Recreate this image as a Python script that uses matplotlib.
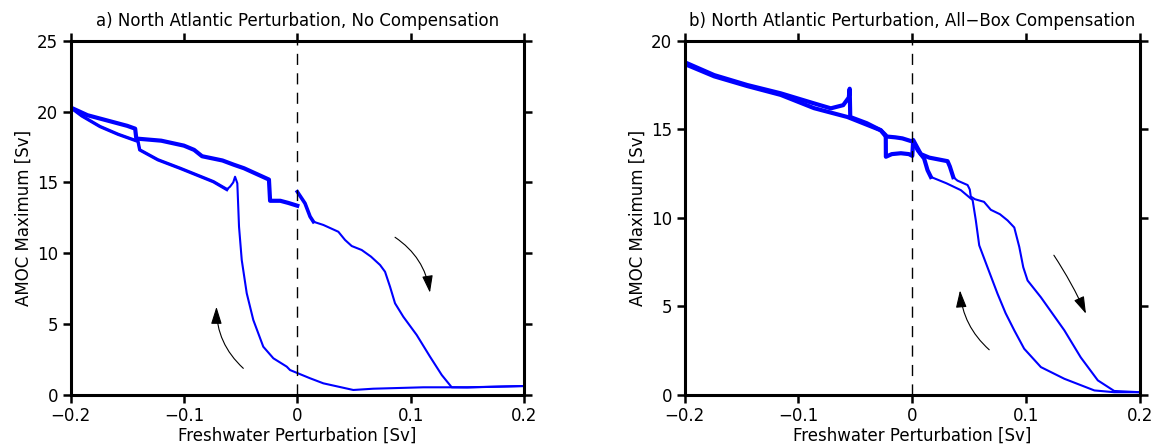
import matplotlib
matplotlib.use("Agg")
import matplotlib.pyplot as plt
import numpy as np

# ---- panel a: North Atlantic perturbation, no compensation ----
# forward run, -0.2 -> 0 (upper branch)
a_fwd_neg_x = [-0.2, -0.185, -0.164, -0.15, -0.143, -0.142, -0.12, -0.1, -0.091, -0.084,
               -0.066, -0.056, -0.047, -0.025, -0.024, -0.015, -0.008, 0.0]
a_fwd_neg_y = [20.3, 19.75, 19.3, 19.0, 18.8, 18.1, 17.95, 17.6, 17.3, 16.85,
               16.55, 16.25, 16.0, 15.2, 13.7, 13.7, 13.55, 13.35]
# forward run, 0 -> 0.2
a_fwd_pos_x = [0.0, 0.0068, 0.0113, 0.0142, 0.023, 0.0362, 0.0421, 0.048, 0.0568,
               0.065, 0.073, 0.0774, 0.0818, 0.0862, 0.0935, 0.1053, 0.1171,
               0.1274, 0.1362, 0.15, 0.175, 0.2]
a_fwd_pos_y = [14.34, 13.52, 12.58, 12.22, 11.99, 11.51, 10.93, 10.5, 10.22,
               9.75, 9.16, 8.68, 7.62, 6.45, 5.5, 4.21, 2.67,
               1.38, 0.51, 0.5, 0.55, 0.6]
# backward run, 0.2 -> -0.2
a_bwd_x = [0.2, 0.15, 0.1112, 0.067, 0.0494, 0.023, 0.0112, -0.0064, -0.0093, -0.0211,
           -0.03, -0.0388, -0.0446, -0.049, -0.0514, -0.0529, -0.0549, -0.0565,
           -0.0593, -0.0622, -0.074, -0.091, -0.1034, -0.123, -0.139, -0.1405,
           -0.158, -0.174, -0.19, -0.2]
a_bwd_y = [0.6, 0.51, 0.51, 0.41, 0.32, 0.79, 1.15, 1.73, 1.97, 2.56,
           3.38, 5.27, 7.16, 9.51, 11.87, 14.94, 15.4, 15.0,
           14.7, 14.5, 15.05, 15.6, 16.0, 16.6, 17.3, 17.9,
           18.4, 18.95, 19.7, 20.3]

# ---- panel b: North Atlantic perturbation, all-box compensation ----
b_fwd_x = [-0.2, -0.174, -0.145, -0.1156, -0.0863, -0.057, -0.0277, -0.0233, -0.0232,
           -0.018, -0.01, -0.003, 0.0, 0.0008, 0.0075, 0.015, 0.031, 0.033, 0.036,
           0.0397, 0.0486, 0.0505, 0.0514, 0.055, 0.063, 0.069, 0.077, 0.0837,
           0.0896, 0.094, 0.0975, 0.1013, 0.113, 0.1336, 0.148, 0.163, 0.1774, 0.2]
b_fwd_y = [18.7, 18.0, 17.45, 16.95, 16.2, 15.7, 14.95, 14.67, 13.45,
           13.6, 13.65, 13.6, 13.5, 14.4, 13.6, 13.4, 13.2, 12.9, 12.3,
           12.1, 11.85, 11.6, 11.2, 11.05, 10.9, 10.45, 10.2, 9.85,
           9.45, 8.35, 7.2, 6.45, 5.5, 3.63, 2.1, 0.8, 0.2, 0.13]
b_bwd_x = [0.2, 0.1774, 0.16, 0.1336, 0.113, 0.0983, 0.0896, 0.082, 0.0749, 0.066,
           0.0588, 0.0558, 0.053, 0.0427, 0.03, 0.0163, 0.0134, 0.0104, 0.005, 0.0007,
           -0.0087, -0.015, -0.0233, -0.0277, -0.04, -0.0545, -0.055, -0.0558,
           -0.0607, -0.0716, -0.0863, -0.1156, -0.145, -0.174, -0.2]
b_bwd_y = [0.13, 0.13, 0.23, 0.89, 1.55, 2.59, 3.63, 4.6, 5.7, 7.21,
           8.44, 9.86, 11.0, 11.56, 11.95, 12.31, 12.69, 13.35, 13.8, 14.3,
           14.49, 14.55, 14.6, 14.95, 15.35, 15.7, 17.3, 16.8,
           16.37, 16.19, 16.47, 17.04, 17.51, 18.07, 18.8]

titles = ["a) North Atlantic Perturbation, No Compensation",
          "b) North Atlantic Perturbation, All\u2212Box Compensation"]
xticks = [-0.2, -0.1, 0, 0.1, 0.2]
xticklabels = ["\u22120.2", "\u22120.1", "0", "0.1", "0.2"]
yticks_a = [0, 5, 10, 15, 20, 25]
yticks_b = [0, 5, 10, 15, 20]

plt.rcParams['font.family'] = 'DejaVu Sans'
BLUE = (0, 0, 1)

fig = plt.figure(figsize=(11.62, 4.48), dpi=100)
ax_a = fig.add_axes([0.0607, 0.1194, 0.3903, 0.7891])
ax_b = fig.add_axes([0.5892, 0.1194, 0.3918, 0.7891])


def draw_curve(ax, x, y, noisy=None, lw=1.5, lw_noisy=2.8):
    x = np.asarray(x)
    y = np.asarray(y)
    ax.plot(x, y, color=BLUE, lw=lw, solid_joinstyle='round')
    if noisy is not None:
        m = (x >= noisy[0]) & (x <= noisy[1])
        ax.plot(x[m], y[m], color=BLUE, lw=lw_noisy, solid_joinstyle='round')


def arrow(ax, tail, head, rad):
    ax.annotate("", xy=head, xytext=tail,
                arrowprops=dict(arrowstyle='-|>,head_length=0.7,head_width=0.22',
                                color='k', lw=0.8, mutation_scale=15,
                                connectionstyle="arc3,rad=%s" % rad,
                                shrinkA=0, shrinkB=0))


def style(ax, yticks, title):
    ax.set_xlim(-0.2, 0.2)
    ax.set_ylim(yticks[0], yticks[-1])
    ax.set_xticks(xticks)
    ax.set_xticklabels(xticklabels)
    ax.set_yticks(yticks)
    ax.tick_params(which='both', direction='out', length=6, width=1.8,
                   labelsize=12, top=True, right=True, pad=3)
    ax.tick_params(axis='x', pad=3)
    for s in ax.spines.values():
        s.set_linewidth(2.2)
    ax.axvline(0, color='k', lw=1.0, dashes=(8, 6))
    ax.set_title(title, fontsize=12, pad=11)
    ax.set_xlabel("Freshwater Perturbation [Sv]", fontsize=12, labelpad=1)
    ax.set_ylabel("AMOC Maximum [Sv]", fontsize=12, labelpad=3)


draw_curve(ax_a, a_fwd_neg_x, a_fwd_neg_y, noisy=(-0.2, 0.0), lw_noisy=3.0)
draw_curve(ax_a, a_fwd_pos_x, a_fwd_pos_y, noisy=(0.0, 0.015), lw_noisy=2.6)
draw_curve(ax_a, a_bwd_x, a_bwd_y, noisy=(-0.2, -0.06), lw_noisy=2.4)
arrow(ax_a, (-0.0476, 1.85), (-0.0713, 6.2), -0.22)
arrow(ax_a, (0.0862, 11.12), (0.117, 7.2), -0.22)
style(ax_a, yticks_a, titles[0])

draw_curve(ax_b, b_fwd_x, b_fwd_y, noisy=(-0.2, 0.036), lw_noisy=3.0)
draw_curve(ax_b, b_bwd_x, b_bwd_y, noisy=(-0.2, 0.02), lw_noisy=3.0)
arrow(ax_b, (0.0676, 2.53), (0.0419, 5.89), -0.2)
arrow(ax_b, (0.1244, 7.88), (0.1526, 4.57), -0.04)
style(ax_b, yticks_b, titles[1])

fig.savefig("out.png", dpi=100)
